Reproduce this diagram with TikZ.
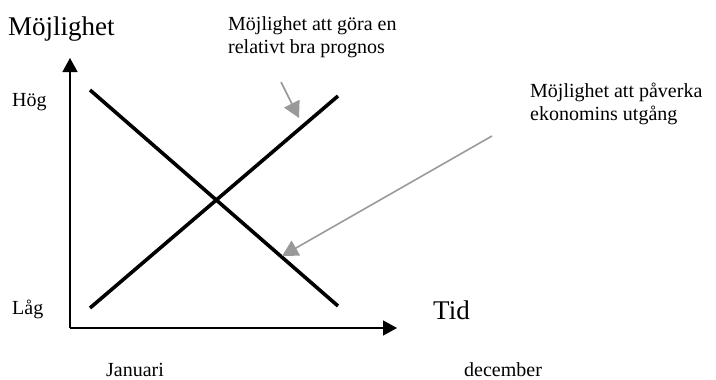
\documentclass[tikz,border=0pt]{standalone}
\usepackage{fontspec}
\setmainfont{Liberation Serif}
\usetikzlibrary{arrows.meta}
\begin{document}
\begin{tikzpicture}[x=1pt,y=-1pt,
  axis/.style={line width=1.6pt,-{Triangle[length=14pt,width=15pt]}},
  curve/.style={line width=3.6pt},
  pointer/.style={draw=gray!80,line width=1.6pt,-{Triangle[length=16pt,width=17pt]}},
  lbl/.style={anchor=base west,inner sep=0pt,font=\fontsize{20}{23}\selectfont,align=left},
  big/.style={anchor=base west,inner sep=0pt,font=\fontsize{27}{30}\selectfont}]
\useasboundingbox (0,0) rectangle (716,380);
\coordinate (o) at (70,328);
\coordinate (ytip) at (70,58);
\coordinate (xtip) at (397,328);
\draw[axis] (o) -- (ytip);
\draw[axis] (o) -- (xtip);
\coordinate (r1) at (90,308);
\coordinate (r2) at (338,96);
\coordinate (f1) at (90,90);
\coordinate (f2) at (338,306);
\draw[curve] (r1) -- (r2);
\draw[curve] (f1) -- (f2);
\node[big] (ylab) at (8,35) {Möjlighet};
\node[big] (xlab) at (433,319) {Tid};
\node[lbl] (hog) at (12,106) {Hög};
\node[lbl] (lag) at (12,314) {Låg};
\node[lbl] (jan) at (106,376) {Januari};
\node[lbl] (dec) at (464,376) {december};
\node[lbl] (prog) at (228,53) {Möjlighet att göra en\\relativt bra prognos};
\node[lbl] (pav) at (530,120) {Möjlighet att påverka\\ekonomins utgång};
\coordinate (p1s) at (281,82);
\coordinate (p1e) at (299,118);
\coordinate (p2s) at (492,136);
\coordinate (p2e) at (282,256);
\draw[pointer] (p1s) -- (p1e);
\draw[pointer] (p2s) -- (p2e);
\end{tikzpicture}
\end{document}
